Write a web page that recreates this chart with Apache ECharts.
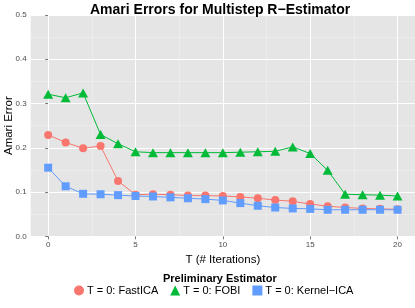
<!DOCTYPE html>
<html>
<head>
<meta charset="utf-8">
<script src="https://cdn.jsdelivr.net/npm/echarts@6/dist/echarts.min.js"></script>
<style>html,body{margin:0;padding:0;background:#fff}#c{width:415px;height:308px}</style>
</head>
<body>
<div id="c"></div>
<script>
const iterations = [0,1,2,3,4,5,6,7,8,9,10,11,12,13,14,15,16,17,18,19,20];
const fastICA = [0.229,0.212,0.199,0.204,0.125,0.094,0.095,0.094,0.092,0.092,0.091,0.089,0.086,0.082,0.079,0.073,0.068,0.065,0.063,0.062,0.061];
const fobi = [0.321,0.313,0.324,0.230,0.209,0.191,0.189,0.189,0.189,0.189,0.189,0.190,0.191,0.192,0.202,0.187,0.149,0.095,0.094,0.093,0.091];
const kernelICA = [0.155,0.113,0.096,0.095,0.093,0.091,0.090,0.088,0.086,0.084,0.081,0.075,0.069,0.065,0.063,0.062,0.060,0.060,0.060,0.060,0.060];
const xMajorTicks = [0,5,10,15,20];
const xMinorTicks = [2.5,7.5,12.5,17.5];
const seriesNames = ['T = 0: FastICA','T = 0: FOBI','T = 0: Kernel\u2212ICA'];
const colors = ['#F8766D','#00BA38','#619CFF'];

const FONT = 'Liberation Sans, Arial, sans-serif';
const pairs = arr => iterations.map((t,i)=>[t,arr[i]]);

const chart = echarts.init(document.getElementById('c'), null, {renderer:'canvas'});
chart.setOption({
  animation:false,
  backgroundColor:'#ffffff',
  title:[
    {text:'Amari Errors for Multistep R\u2212Estimator', left:90, top:3, padding:0,
     textStyle:{fontFamily:FONT, fontSize:14, fontWeight:'bold', color:'#000'}},
    {text:'Preliminary Estimator', left:163, top:273, padding:0,
     textStyle:{fontFamily:FONT, fontSize:11, fontWeight:'bold', color:'#000'}}
  ],
  legend:{
    left:74, top:285, padding:0, itemGap:12, itemWidth:10, itemHeight:10,
    textStyle:{fontFamily:FONT, fontSize:11, color:'#000', padding:[0,0,0,-2]},
    data:[
      {name:seriesNames[0], icon:'circle'},
      {name:seriesNames[1], icon:'triangle'},
      {name:seriesNames[2], icon:'rect'}
    ]
  },
  grid:{left:30.7, right:0, top:15, bottom:71.7, containLabel:false, outerBoundsMode:'none',
        show:true, backgroundColor:'#E5E5E5', borderWidth:0},
  xAxis:[
    {type:'value', min:-1, max:21,
     name:'T (# Iterations)', nameLocation:'middle', nameGap:18, nameMoveOverlap:false,
     nameTextStyle:{fontFamily:FONT, fontSize:11.5, color:'#000'},
     axisLine:{show:false},
     axisTick:{show:true, length:3, customValues:xMajorTicks, lineStyle:{color:'#555', width:0.8}},
     axisLabel:{customValues:xMajorTicks, fontFamily:FONT, fontSize:8, color:'#4D4D4D', margin:4},
     splitLine:{show:true, lineStyle:{color:'#FFFFFF', width:1}},
     z:2},
    {type:'value', min:-1, max:21, position:'bottom',
     axisLine:{show:false}, axisTick:{show:false, customValues:xMinorTicks},
     axisLabel:{show:false, customValues:xMinorTicks},
     splitLine:{show:true, lineStyle:{color:'#F2F2F2', width:0.5}}}
  ],
  yAxis:{type:'value', min:0, max:0.5, interval:0.1,
     name:'Amari Error', nameLocation:'middle', nameGap:15.5, nameMoveOverlap:false,
     nameTextStyle:{fontFamily:FONT, fontSize:11.5, color:'#000'},
     axisLine:{show:false},
     axisTick:{show:true, length:3, lineStyle:{color:'#555', width:0.8}},
     axisLabel:{fontFamily:FONT, fontSize:8, color:'#4D4D4D', margin:4, formatter:v=>v.toFixed(1)},
     splitLine:{show:true, lineStyle:{color:'#FFFFFF', width:1}},
     minorTick:{show:false, splitNumber:2},
     minorSplitLine:{show:true, lineStyle:{color:'#F2F2F2', width:0.5}}
  },
  series:[
    {name:seriesNames[0], type:'line', data:pairs(fastICA), symbol:'circle', symbolSize:8,
     itemStyle:{color:colors[0]}, lineStyle:{color:colors[0], width:1}},
    {name:seriesNames[1], type:'line', data:pairs(fobi), symbol:'triangle', symbolSize:[10,9],
     itemStyle:{color:colors[1]}, lineStyle:{color:colors[1], width:1}},
    {name:seriesNames[2], type:'line', data:pairs(kernelICA), symbol:'rect', symbolSize:8,
     itemStyle:{color:colors[2]}, lineStyle:{color:colors[2], width:1}}
  ]
});
</script>
</body>
</html>
